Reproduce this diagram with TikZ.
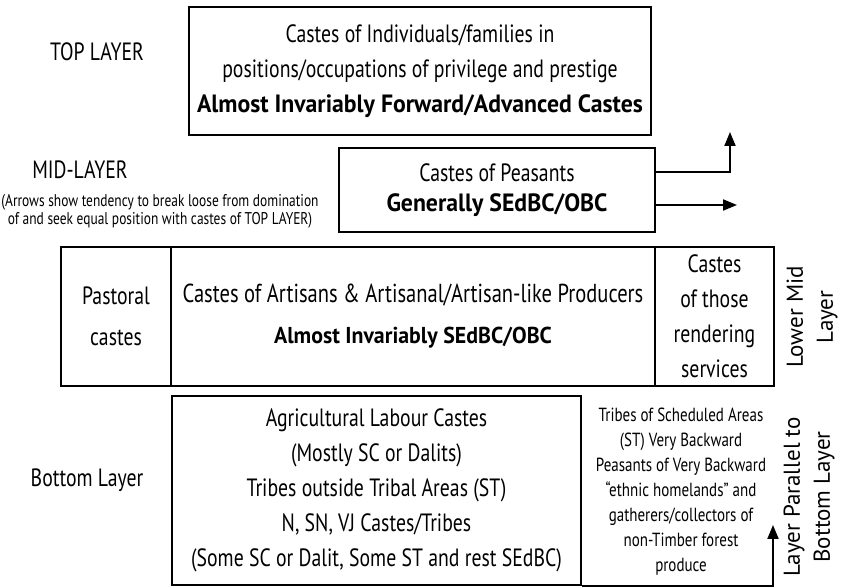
\documentclass[tikz,border=0pt]{standalone}
\usepackage{fontspec}
\setmainfont{PT Sans}[FakeStretch=0.79,BoldFeatures={FakeStretch=0.95}]
\newfontfamily\plainfont{PT Sans}
\usetikzlibrary{arrows.meta}

\begin{document}
\begin{tikzpicture}[x=1pt,y=1pt,
  box/.style={draw,line width=2pt,inner sep=0pt,align=center,
    font=\fontsize{25}{35}\selectfont},
  lbl/.style={align=center,font=\fontsize{25}{35}\selectfont},
  small/.style={align=center,font=\fontsize{17}{18}\selectfont},
  side/.style={align=center,rotate=90,font=\plainfont\fontsize{23}{30}\selectfont},
  arr/.style={line width=2pt,-{Triangle[length=14pt,width=11pt]}}]
  \useasboundingbox (0,0) rectangle (844,588);

  % Top layer
  \node[box,minimum width=462pt,minimum height=128pt] (top) at (420,517)
    {Castes of Individuals/families in\\
     positions/occupations of privilege and prestige\\
     \textbf{Almost Invariably Forward/Advanced Castes}};
  \node[lbl] (toplbl) at (97,536) {TOP LAYER};

  % Mid layer
  \node[box,minimum width=316pt,minimum height=84pt,
        font=\fontsize{25}{30}\selectfont] (mid) at (497,398)
    {Castes of Peasants\\ \textbf{Generally SEdBC/OBC}};
  \node[lbl] (midlbl) at (80,418) {MID-LAYER};
  \node[small] (midnote) at (160,377)
    {(Arrows show tendency to break loose from domination\\
     of and seek equal position with castes of TOP LAYER)};
  \coordinate (upend) at (730,456);
  \coordinate (rightend) at (737,383);
  \draw[arr] ([yshift=18pt]mid.east) -| (upend);
  \draw[arr] (mid.east |- rightend) -- (rightend);

  % Lower mid layer
  \node[box,minimum width=110pt,minimum height=139pt,
        font=\fontsize{25}{41}\selectfont] (pastoral) at (116,271.5)
    {Pastoral\\castes};
  \node[box,minimum width=484pt,minimum height=139pt,
        font=\fontsize{26}{41}\selectfont] (artisans) at (413,271.5)
    {Castes of Artisans \& Artisanal/Artisan-like Producers\\
     \fontsize{23}{41}\selectfont\textbf{Almost Invariably SEdBC/OBC}};
  \node[box,minimum width=119pt,minimum height=139pt] (services) at (714.5,271.5)
    {Castes\\of those\\rendering\\services};
  \node[side] (lowmidlbl) at (812,271) {Lower Mid\\Layer};

  % Bottom layer
  \node[box,minimum width=409pt,minimum height=189pt] (bottom) at (376.5,97.5)
    {Agricultural Labour Castes\\
     (Mostly SC or Dalits)\\
     Tribes outside Tribal Areas (ST)\\
     N, SN, VJ Castes/Tribes\\
     (Some SC or Dalit, Some ST and rest SEdBC)};
  \node[lbl] (bottomlbl) at (87,108) {Bottom Layer};
  \node[align=center,font=\fontsize{19}{25}\selectfont] (tribes) at (681,96)
    {Tribes of Scheduled Areas\\
     (ST) Very Backward\\
     Peasants of Very Backward\\
     ``ethnic homelands'' and\\
     gatherers/collectors of\\
     non-Timber forest\\
     produce};
  \node[side] (paralbl) at (809,91) {Layer Parallel to\\Bottom Layer};
  \coordinate (paraend) at (773,63);
  \draw[arr] (bottom.south east) -| (paraend);
\end{tikzpicture}
\end{document}
